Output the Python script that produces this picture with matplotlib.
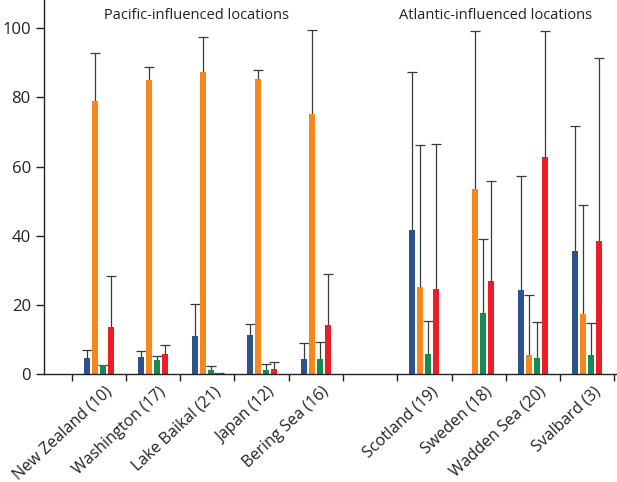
import matplotlib
matplotlib.use("Agg")
import matplotlib.pyplot as plt
import matplotlib.transforms as mtransforms
import numpy as np

plt.rcParams['font.family'] = ['Open Sans', 'DejaVu Sans']

locations = ["New Zealand (10)", "Washington (17)", "Lake Baikal (21)", "Japan (12)",
             "Bering Sea (16)", "", "Scotland (19)", "Sweden (18)", "Wadden Sea (20)",
             "Svalbard (3)"]

# series values (mean) and upper error limits (mean + sd) per location
blue_vals   = [4.6, 4.9, 11.0, 11.3, 4.4, np.nan, 41.7, 0.0, 24.3, 35.6]
blue_top    = [7.0, 6.8, 20.4, 14.4, 8.9, np.nan, 87.4, 0.0, 57.3, 71.7]
orange_vals = [79.0, 85.1, 87.5, 85.3, 75.2, np.nan, 25.3, 53.5, 5.5, 17.4]
orange_top  = [92.9, 88.8, 97.6, 88.0, 99.6, np.nan, 66.2, 99.2, 22.8, 48.8]
green_vals  = [2.5, 4.0, 1.3, 1.3, 4.4, np.nan, 5.8, 17.6, 4.7, 5.5]
green_top   = [2.6, 5.1, 2.3, 3.0, 9.4, np.nan, 15.4, 39.0, 15.1, 14.7]
red_vals    = [13.6, 5.9, 0.3, 1.6, 14.2, np.nan, 24.6, 26.9, 62.8, 38.5]
red_top     = [28.5, 8.3, 0.4, 3.6, 29.0, np.nan, 66.4, 55.9, 99.2, 91.3]

series = [
    (blue_vals, blue_top, '#2C548A'),
    (orange_vals, orange_top, '#F6871F'),
    (green_vals, green_top, '#178A50'),
    (red_vals, red_top, '#EC1D25'),
]

fig = plt.figure(figsize=(6.17, 4.82), dpi=100)
ax = fig.add_axes([0.0713, 0.224, 0.9287, 0.776])

x = np.arange(len(locations))
step = 0.147
width = 0.112
for k, (vals, tops, col) in enumerate(series):
    v = np.array(vals, dtype=float)
    t = np.array(tops, dtype=float)
    pos = x + (k - 1.5) * step
    mask = ~np.isnan(v)
    ax.bar(pos[mask], v[mask], width=width, color=col, zorder=2)
    err = np.clip(t[mask] - v[mask], 0, None)
    has = err > 0
    _, caps, _ = ax.errorbar(pos[mask][has], v[mask][has],
                             yerr=[np.zeros(has.sum()), err[has]],
                             fmt='none', ecolor='#3a3a3a', elinewidth=0.9,
                             capsize=3.3, capthick=0.9, zorder=1)
    # only keep the upper caps
    if len(caps) == 2:
        caps[0].set_visible(False)

ax.set_xlim(-1.01, 9.55)
ax.set_ylim(0, 108.2)

for s in ['top', 'right']:
    ax.spines[s].set_visible(False)
ax.spines['left'].set_color('#222222')
ax.spines['bottom'].set_color('#222222')
ax.spines['left'].set_linewidth(1.0)
ax.spines['bottom'].set_linewidth(1.0)

ax.set_yticks([0, 20, 40, 60, 80, 100])
ax.tick_params(axis='y', direction='out', length=5.5, width=1.0, labelsize=12,
               colors='#222222', pad=4)

ax.set_xticks(np.arange(-0.5, 10, 1.0))
ax.set_xticklabels([])
ax.tick_params(axis='x', which='major', direction='out', length=5, width=1.0,
               colors='#222222')
ax.set_xticks(x, minor=True)
ax.set_xticklabels(locations, minor=True, rotation=43, ha='right',
                   rotation_mode='anchor', fontsize=11.5, color='#222222')
ax.tick_params(axis='x', which='minor', length=0, pad=7)
offset = mtransforms.ScaledTranslation(4/72, 0, fig.dpi_scale_trans)
for lab in ax.get_xticklabels(minor=True):
    lab.set_transform(lab.get_transform() + offset)

ax.text(1.8, 103.6, "Pacific-influenced locations", ha='center', va='center',
        fontsize=10.5, color='#222222')
ax.text(7.31, 103.6, "Atlantic-influenced locations", ha='center', va='center',
        fontsize=10.5, color='#222222')

fig.savefig("out.png", dpi=100)
